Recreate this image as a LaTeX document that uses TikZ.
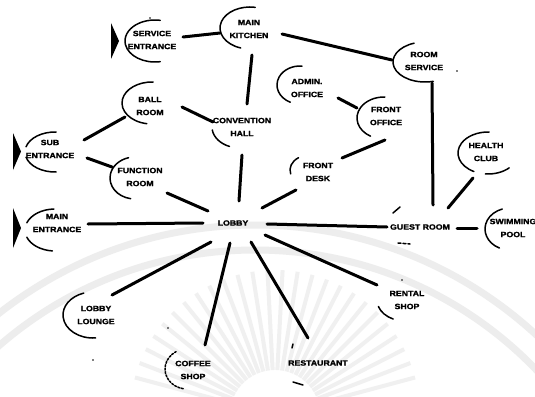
\documentclass[tikz,border=0pt]{standalone}
\usepackage{fontspec}
\newfontfamily\lblfont{Liberation Sans Bold}[FakeStretch=1.15, FakeBold=1.6]
\usetikzlibrary{calc}

% partial bubble outline: node, centre offset x/y, radii, start/end angle
\newcommand\bubarc[7]{%
  \draw[bub] ([shift={(#2,#3)}]#1.center) ++(#6:#4 and #5)
    arc[start angle=#6, end angle=#7, x radius=#4, y radius=#5];}
% connector between two named nodes, with offsets from their centres
\newcommand\link[6]{%
  \draw[conn] ([shift={(#2,#3)}]#1.center) -- ([shift={(#5,#6)}]#4.center);}
% entrance marker: filled wedge pointing right
\newcommand\gatemark[4]{%
  \fill ([shift={(#2,#3)}]#1.center) -- ++(0,#4) -- ++(8,-#4/2) -- cycle;}

\begin{document}
\begin{tikzpicture}[x=1pt,y=-1pt,
  lbl/.style={font=\lblfont\fontsize{7.6}{13}\selectfont, align=center, inner sep=0pt},
  conn/.style={line width=3pt, line cap=round},
  bub/.style={line width=1.5pt, line cap=round},
  dotbub/.style={bub, dash pattern=on 2pt off 1.5pt},
  speck/.style={fill=black}]

\fill[white] (0,0) rectangle (535,396);
\useasboundingbox (0,0) rectangle (535,396);

% faint seal in the paper
\begin{scope}
  \clip (0,0) rectangle (535,396);
  \draw[black!7, line width=7pt] (255,640) circle[radius=415];
  \draw[black!7, line width=7pt] (255,640) circle[radius=390];
  \foreach \a in {195,201,...,345}
    \draw[black!6, line width=4pt] (275,415) ++(\a:45) -- ++(\a:100);
\end{scope}

% spaces
\node[lbl] (sent)  at (152,40)  {SERVICE\\ENTRANCE};
\node[lbl] (kit)   at (249,29)  {MAIN\\KITCHEN};
\node[lbl] (rs)    at (424,61)  {ROOM\\SERVICE};
\node[lbl] (adm)   at (307,88)  {ADMIN.\\OFFICE};
\node[lbl] (fo)    at (386,116) {FRONT\\OFFICE};
\node[lbl] (ball)  at (150,106) {BALL\\ROOM};
\node[lbl] (conv)  at (242,127) {CONVENTION\\HALL};
\node[lbl] (sub)   at (50,149)  {SUB\\ENTRANCE};
\node[lbl] (func)  at (140,177) {FUNCTION\\ROOM};
\node[lbl] (fd)    at (318,172) {FRONT\\DESK};
\node[lbl] (hc)    at (486,152) {HEALTH\\CLUB};
\node[lbl] (lobby) at (233,223) {LOBBY};
\node[lbl] (ment)  at (57,223)  {MAIN\\ENTRANCE};
\node[lbl] (gr)    at (420,227) {GUEST ROOM};
\node[lbl] (sp)    at (513,228) {SWIMMING\\POOL};
\node[lbl] (ll)    at (96,315)  {LOBBY\\LOUNGE};
\node[lbl] (cs)    at (193,370) {COFFEE\\SHOP};
\node[lbl] (rest)  at (318,363) {RESTAURANT};
\node[lbl] (rent)  at (407,300) {RENTAL\\SHOP};

% bubble outlines
\bubarc{sent}{3}{1}{30}{21}{80}{280}
\bubarc{kit}{1}{-1}{30}{21}{108}{280}
\bubarc{rs}{1}{1}{32}{20}{75}{250}
\bubarc{adm}{-7}{-3}{23}{19}{115}{275}
\bubarc{fo}{-2}{2}{27}{21}{120}{272}
\bubarc{ball}{2}{-3}{30}{21}{100}{272}
\bubarc{conv}{-2}{0}{28}{21}{112}{172}
\bubarc{sub}{5}{3}{30}{20}{88}{165}
\bubarc{sub}{5}{3}{30}{20}{195}{272}
\bubarc{func}{-5}{1}{25}{21}{100}{255}
\bubarc{fd}{-8}{-2}{20}{15}{165}{235}
\bubarc{hc}{2}{1}{30}{21}{118}{272}
\bubarc{hc}{2}{1}{30}{21}{45}{95}
\bubarc{sp}{-3}{1}{25}{21}{115}{252}
\bubarc{ment}{-2}{7}{30}{21}{95}{160}
\bubarc{ment}{-2}{7}{30}{21}{200}{268}
\bubarc{ll}{-3}{0}{30}{23}{85}{252}
\draw[dotbub] ([shift={(-6,-1)}]cs.center) ++(100:22 and 20)
  arc[start angle=100, end angle=240, x radius=22, y radius=20];
\bubarc{rent}{-2}{0}{28}{21}{115}{162}
\draw[bub] ([shift={(-26,-15)}]rest.center) -- ++(1,-4);
\draw[bub] ([shift={(-25,19)}]rest.center) -- ++(10,3);
\draw[bub] ([shift={(-27,-14)}]gr.center) -- ++(7,-6);
\draw[bub, dash pattern=on 3pt off 2pt] ([shift={(-22,16)}]gr.center) -- ++(12,1);

% entrances
\gatemark{sent}{-41}{-17}{36}
\gatemark{sub}{-37}{-16}{37}
\gatemark{ment}{-44}{-15}{40}

% circulation links
\link{sent}{31}{-3}{kit}{-29}{4}
\link{kit}{33}{5}{rs}{-32}{-1}
\link{kit}{3}{26}{conv}{5}{-23}
\link{ball}{32}{1}{conv}{-29}{-5}
\link{sub}{34}{-9}{ball}{-25}{11}
\link{sub}{37}{9}{func}{-28}{-10}
\link{func}{27}{16}{lobby}{-25}{-12}
\link{conv}{0}{28}{lobby}{6}{-22}
\link{adm}{31}{10}{fo}{-29}{-8}
\link{fo}{-1}{24}{fd}{24}{-14}
\link{fd}{-22}{18}{lobby}{29}{-15}
\link{ment}{31}{1}{lobby}{-30}{0}
\link{lobby}{34}{1}{gr}{-33}{0}
\link{rs}{8}{22}{gr}{13}{-22}
\link{hc}{-13}{26}{gr}{28}{-19}
\link{gr}{37}{1}{sp}{-36}{0}
\link{lobby}{-22}{19}{ll}{16}{-20}
\link{lobby}{-3}{20}{cs}{12}{-25}
\link{lobby}{18}{19}{rest}{-10}{-25}
\link{lobby}{32}{12}{rent}{-30}{-15}

% pencil specks
\foreach \p in {(150,18),(457,71),(168,328),(93,360),(402,280)}
  \fill[speck] \p circle[radius=0.9];
\end{tikzpicture}
\end{document}
